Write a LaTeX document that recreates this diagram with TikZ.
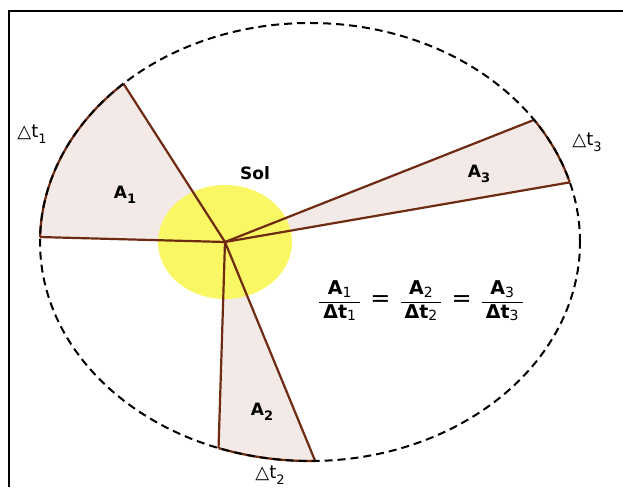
\documentclass[tikz,border=0pt]{standalone}
\usepackage{amsmath}
\usepackage{fontspec}
\setmainfont{DejaVu Sans}
\definecolor{sectorfill}{RGB}{243,234,231}
\definecolor{sectorline}{RGB}{110,43,18}
\definecolor{sunyellow}{RGB}{250,247,100}
\newcommand{\lowsub}[1]{\raisebox{-0.32em}{\fontsize{13}{15}\selectfont #1}}
\newcommand{\fsub}[1]{\raisebox{-0.12em}{\fontsize{14}{16}\selectfont\mdseries #1}}
\newcommand{\kfrac}[2]{\dfrac{\mbox{\hspace{4pt}#1\hspace{4pt}}}{\mbox{\hspace{4pt}#2\hspace{4pt}}}}
\newcommand{\keq}{\mbox{\hspace{9pt}\fontsize{24}{26}\fontseries{m}\selectfont =\hspace{9pt}}}
\tikzset{
  sectorarea/.style={fill=sectorfill},
  radius line/.style={draw=sectorline, line width=2.2pt},
  orbitline/.style={draw=black, line width=2pt, dash pattern=on 8pt off 5pt},
  arealabel/.style={font=\bfseries\fontsize{17}{20}\selectfont, inner sep=0pt},
  timelabel/.style={font=\fontsize{18}{21}\selectfont, inner sep=0pt},
  framestroke/.style={draw=black, line width=2.2pt},
  orb/.style={x radius=270pt, y radius=219pt}
}
\begin{document}
\begin{tikzpicture}[x=1pt,y=1pt]
\useasboundingbox (0,0) rectangle (623,487);
\coordinate (C) at (310,245);
\coordinate (F) at (225,245);
% end points on the orbit
\coordinate (P1a) at ([shift={(C)}]133.7:270pt and 219pt);
\coordinate (P1b) at ([shift={(C)}]178.7:270pt and 219pt);
\coordinate (P2a) at ([shift={(C)}]250.2:270pt and 219pt);
\coordinate (P2b) at ([shift={(C)}]271.1:270pt and 219pt);
\coordinate (P3a) at ([shift={(C)}]15.8:270pt and 219pt);
\coordinate (P3b) at ([shift={(C)}]33.9:270pt and 219pt);
% sector fills
\fill[sectorarea] (F) -- (P1a) arc[start angle=133.7,end angle=178.7,orb] -- cycle;
\fill[sectorarea] (F) -- (P2a) arc[start angle=250.2,end angle=271.1,orb] -- cycle;
\fill[sectorarea] (F) -- (P3a) arc[start angle=15.8,end angle=33.9,orb] -- cycle;
% sun
\fill[sunyellow] (F) ellipse[x radius=67pt, y radius=57pt];
% radius lines
\draw[radius line] (F) -- (P1a);
\draw[radius line] (F) -- (P1b);
\draw[radius line] (F) -- (P2a);
\draw[radius line] (F) -- (P2b);
\draw[radius line] (F) -- (P3a);
\draw[radius line] (F) -- (P3b);
% arcs of the sectors
\draw[radius line] (P1a) arc[start angle=133.7,end angle=178.7,orb];
\draw[radius line] (P2a) arc[start angle=250.2,end angle=271.1,orb];
\draw[radius line] (P3a) arc[start angle=15.8,end angle=33.9,orb];
% orbit
\draw[orbitline] (C) ellipse[orb];
% labels
\node[arealabel] (sol) at (255,314) {Sol};
\node[arealabel] (a1) at (125,292) {A\lowsub{1}};
\node[arealabel] (a2) at (262,75) {A\lowsub{2}};
\node[arealabel] (a3) at (479,313) {A\lowsub{3}};
\node[timelabel] (t1) at (32,353) {△t\lowsub{1}};
\node[timelabel] (t2) at (270,12) {△t\lowsub{2}};
\node[timelabel] (t3) at (587,345) {△t\lowsub{3}};
\node[font=\bfseries\fontsize{19}{23}\selectfont, inner sep=0pt] (law) at (421,186)
  {$\kfrac{A\fsub{1}}{Δt\fsub{1}}\keq\kfrac{A\fsub{2}}{Δt\fsub{2}}\keq\kfrac{A\fsub{3}}{Δt\fsub{3}}$};
% frame (top and left edges)
\coordinate (fl) at (9,0);
\coordinate (fc) at (9,476);
\coordinate (fr) at (623,476);
\draw[framestroke] (fl) -- (fc) -- (fr);
\end{tikzpicture}
\end{document}
